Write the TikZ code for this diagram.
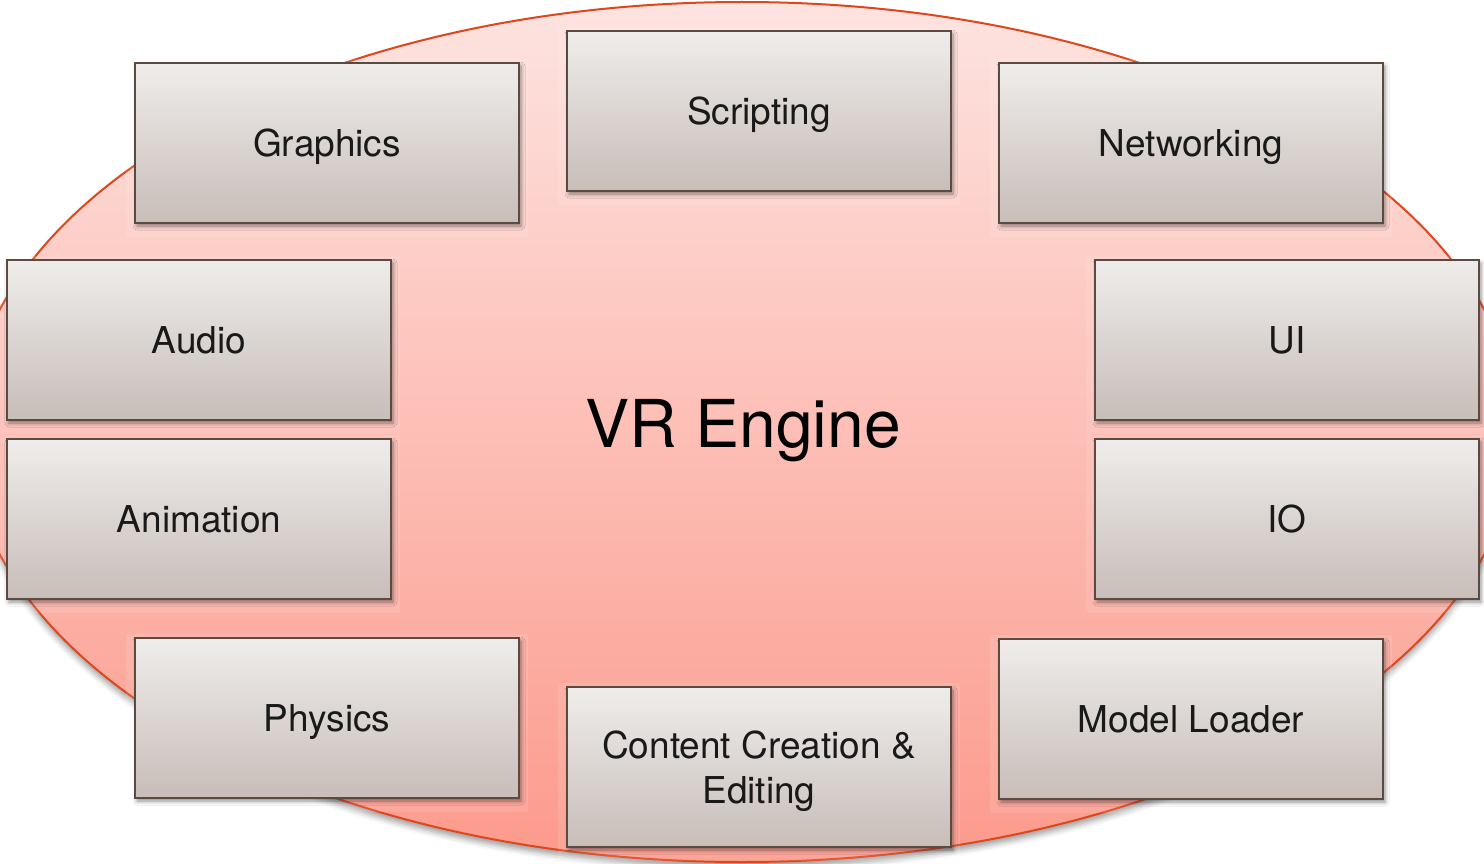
\documentclass[tikz,border=0pt]{standalone}
\usepackage{fontspec}
\setmainfont{TeX Gyre Heros}
\usetikzlibrary{shapes.geometric,shadows.blur}

\definecolor{rimred}{HTML}{E0461C}
\definecolor{eltop}{HTML}{FDE3E0}
\definecolor{elmid}{HTML}{FFC5C0}
\definecolor{elbot}{HTML}{FC9A8C}
\definecolor{boxtop}{HTML}{EFEDEB}
\definecolor{boxbot}{HTML}{C7BDB9}
\definecolor{boxrim}{HTML}{5B4A3F}

\begin{document}
\begin{tikzpicture}[x=1pt,y=-1pt,
  module/.style={draw=boxrim, line width=2pt, top color=boxtop, bottom color=boxbot,
    minimum width=384pt, minimum height=160pt, inner sep=0pt, text depth=0pt,
    font=\fontsize{37}{45}\selectfont, text=black!90, align=center,
    blur shadow={shadow xshift=2pt, shadow yshift=-3pt, shadow blur radius=4pt, shadow opacity=45}},
  halo/.style={fill=white, fill opacity=0.10, minimum width=402pt, minimum height=178pt, inner sep=0pt}]

\useasboundingbox (0,0) rectangle (1484,864);

% engine body
\node[ellipse, draw=rimred, line width=2pt, top color=eltop, middle color=elmid, bottom color=elbot,
      minimum width=1548pt, minimum height=860pt, inner sep=0pt,
      blur shadow={shadow xshift=0pt, shadow yshift=-5pt, shadow blur radius=6pt, shadow opacity=40}]
      (engine) at (742,432) {};

\node[anchor=base, font=\fontsize{66}{70}\selectfont] (title) at (743,447) {VR Engine};

% faint backing plates behind the modules
\foreach \px/\py/\nm in {327/148/hg, 759/116/hs, 1191/148/hn, 199/345/ha, 199/524/hm,
                         1287/345/hu, 1287/524/hi, 327/723/hp, 759/772/hc, 1191/724/hl}
  \node[halo] (\nm) at (\px,\py) {};

% modules
\node[module] (graphics)   at (327,143)  {Graphics};
\node[module] (scripting)  at (759,111)  {Scripting};
\node[module] (networking) at (1191,143) {Networking};
\node[module] (audio)      at (199,340)  {Audio};
\node[module] (animation)  at (199,519)  {Animation};
\node[module] (ui)         at (1287,340) {UI};
\node[module] (io)         at (1287,519) {IO};
\node[module] (physics)    at (327,718)  {Physics};
\node[module] (content)    at (759,767)  {Content Creation \&\\Editing};
\node[module] (loader)     at (1191,719) {Model Loader};
\end{tikzpicture}
\end{document}
